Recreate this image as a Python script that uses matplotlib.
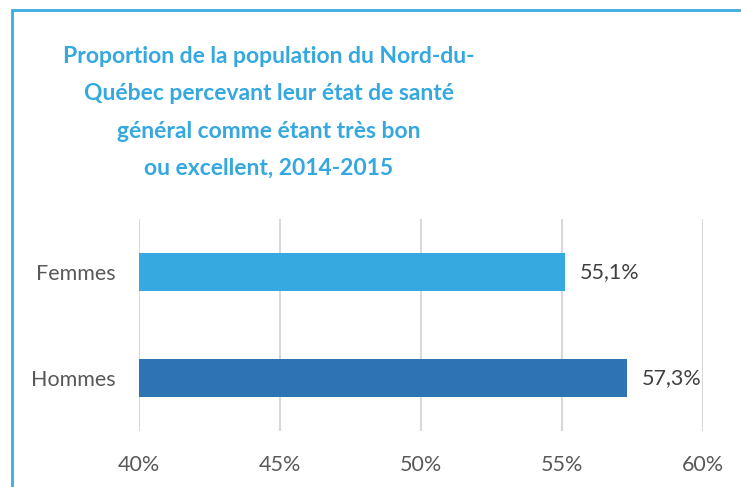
import matplotlib.pyplot as plt
from matplotlib.patches import Rectangle

# donnees
categories = ['Hommes', 'Femmes']
valeurs = [57.3, 55.1]
etiquettes = ['57,3%', '55,1%']
ticks = [40, 45, 50, 55, 60]
tick_labels = ['40%', '45%', '50%', '55%', '60%']
couleurs = ['#2E74B5', '#36A9E0']

titre = ("Proportion de la population du Nord-du-\n"
         "Québec percevant leur état de santé\n"
         "général comme étant très bon\n"
         "ou excellent, 2014-2015")

plt.rcParams['font.family'] = ['Lato', 'DejaVu Sans']

fig = plt.figure(figsize=(7.41, 4.87), dpi=100)
W, H = 741, 487

# cadre du graphique (coupe a droite et en bas)
fig.patches.append(Rectangle((11.5 / W, -0.1), 1.2, 1 - 9.5 / H + 0.1,
                             transform=fig.transFigure, fill=False,
                             edgecolor='#3AAEE0', linewidth=2))

fig.text(269 / W, 1 - 175 / H, titre, ha='center', va='baseline',
         fontsize=16.5, fontweight='bold', color='#35A8E0', linespacing=1.96,
         transform=fig.transFigure)

ax = fig.add_axes([139 / W, 1 - 431 / H, 564 / W, 212 / H])
y = range(len(categories))
ax.barh(y, [v - 40 for v in valeurs], left=40, height=0.356, color=couleurs, zorder=3)
ax.set_xlim(40, 60)
ax.set_ylim(-0.5, 1.5)
ax.set_xticks(ticks)
ax.set_xticklabels(tick_labels)
ax.set_yticks(list(y))
ax.set_yticklabels(categories)
ax.tick_params(length=0, labelsize=15.5, labelcolor='#595959')
ax.tick_params(axis='x', pad=17)
ax.tick_params(axis='y', pad=17)
ax.grid(axis='x', color='#D9D9D9', linewidth=1.5, zorder=0)
for s in ax.spines.values():
    s.set_visible(False)

for i, v in enumerate(valeurs):
    ax.annotate(etiquettes[i], (v, i), xytext=(11, 0), textcoords='offset points',
                va='center', ha='left', fontsize=15.5, color='#404040')

fig.savefig('out.png', dpi=100)
